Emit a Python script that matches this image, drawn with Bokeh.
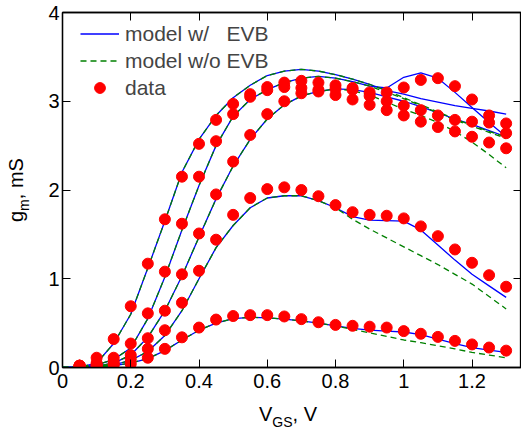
from bokeh.plotting import figure
from bokeh.models import (Range1d, LinearAxis, FixedTicker, Legend, LegendItem, Div)
from bokeh.layouts import row, column
from bokeh.embed import file_html
from bokeh.resources import INLINE

# ---------------- data ----------------
vgs_model = [0.0, 0.05, 0.10, 0.15, 0.20, 0.25, 0.30, 0.35, 0.40, 0.45, 0.50, 0.55, 0.60,
             0.65, 0.70, 0.75, 0.80, 0.85, 0.90, 0.95, 1.00, 1.05, 1.10, 1.15, 1.20, 1.25, 1.30]

# model with EVB (5 curves)
a_evb = [0, 0.005, 0.05, 0.27, 0.60, 1.12, 1.65, 2.20, 2.57, 2.84, 3.04, 3.18, 3.29,
         3.34, 3.36, 3.34, 3.30, 3.25, 3.19, 3.12, 3.08, 3.03, 2.99, 2.95, 2.92, 2.89, 2.855]
b_evb = [0, 0.003, 0.03, 0.09, 0.22, 0.55, 1.02, 1.55, 2.05, 2.50, 2.83, 3.02, 3.13,
         3.21, 3.26, 3.28, 3.26, 3.22, 3.17, 3.15, 3.27, 3.32, 3.26, 3.10, 2.93, 2.76, 2.60]
c_evb = [0, 0.002, 0.015, 0.05, 0.14, 0.34, 0.64, 1.03, 1.47, 1.90, 2.27, 2.57, 2.80,
         2.96, 3.06, 3.11, 3.14, 3.13, 3.10, 3.05, 3.00, 2.94, 2.87, 2.80, 2.74, 2.67, 2.60]
d_evb = [0, 0.002, 0.01, 0.03, 0.08, 0.18, 0.36, 0.64, 1.00, 1.35, 1.60, 1.80, 1.91,
         1.935, 1.935, 1.88, 1.80, 1.70, 1.66, 1.655, 1.65, 1.55, 1.38, 1.21, 1.05, 0.92, 0.79]
e_evb = [0, 0.002, 0.008, 0.02, 0.05, 0.10, 0.19, 0.31, 0.42, 0.50, 0.55, 0.565, 0.56,
         0.545, 0.525, 0.50, 0.47, 0.44, 0.42, 0.41, 0.40, 0.37, 0.32, 0.27, 0.225, 0.195, 0.17]

# model without EVB (5 curves)
a_noevb = [0, 0.005, 0.05, 0.27, 0.60, 1.12, 1.65, 2.20, 2.57, 2.84, 3.04, 3.18, 3.29,
           3.34, 3.36, 3.34, 3.30, 3.25, 3.19, 3.12, 3.04, 2.96, 2.88, 2.80, 2.73, 2.66, 2.60]
b_noevb = [0, 0.003, 0.03, 0.09, 0.22, 0.55, 1.02, 1.55, 2.05, 2.50, 2.83, 3.02, 3.13,
           3.21, 3.26, 3.28, 3.26, 3.22, 3.17, 3.10, 3.03, 2.95, 2.87, 2.79, 2.72, 2.65, 2.58]
c_noevb = [0, 0.002, 0.015, 0.05, 0.14, 0.34, 0.64, 1.03, 1.47, 1.90, 2.27, 2.57, 2.80,
           2.96, 3.06, 3.11, 3.14, 3.12, 3.07, 2.99, 2.91, 2.84, 2.76, 2.66, 2.54, 2.40, 2.25]
d_noevb = [0, 0.002, 0.01, 0.03, 0.08, 0.18, 0.36, 0.64, 1.00, 1.35, 1.60, 1.80, 1.91,
           1.935, 1.935, 1.88, 1.80, 1.67, 1.56, 1.46, 1.36, 1.26, 1.16, 1.05, 0.94, 0.80, 0.66]
e_noevb = [0, 0.002, 0.008, 0.02, 0.05, 0.10, 0.19, 0.31, 0.42, 0.50, 0.55, 0.565, 0.56,
           0.545, 0.525, 0.50, 0.47, 0.43, 0.39, 0.35, 0.31, 0.28, 0.245, 0.21, 0.17, 0.14, 0.11]

# measured data
vgs_data = [0.05, 0.10, 0.15, 0.20, 0.25, 0.30, 0.35, 0.40, 0.45, 0.50, 0.55, 0.60, 0.65,
            0.70, 0.75, 0.80, 0.85, 0.90, 0.95, 1.00, 1.05, 1.10, 1.15, 1.20, 1.25, 1.30]
a_data = [0.02, 0.11, 0.32, 0.69, 1.17, 1.67, 2.15, 2.52, 2.79, 2.97, 3.08, 3.16, 3.21,
          3.23, 3.21, 3.18, 3.15, 3.10, 3.10, 3.155, 3.24, 3.26, 3.17, 3.02, 2.84, 2.75]
b_data = [0.02, 0.05, 0.11, 0.27, 0.61, 1.08, 1.62, 2.15, 2.55, 2.855, 3.05, 3.125, 3.16,
          3.15, 3.13, 3.14, 3.13, 3.06, 3.00, 2.95, 2.90, 2.84, 2.79, 2.77, 2.76, 2.64]
c_data = [0.02, 0.03, 0.07, 0.14, 0.33, 0.64, 1.05, 1.51, 1.95, 2.32, 2.62, 2.855, 3.00,
          3.09, 3.11, 3.07, 3.02, 2.96, 2.90, 2.84, 2.77, 2.71, 2.66, 2.60, 2.535, 2.47]
d_data = [0.02, 0.02, 0.04, 0.09, 0.21, 0.42, 0.73, 1.09, 1.44, 1.72, 1.91, 2.01, 2.03,
          2.00, 1.93, 1.83, 1.75, 1.72, 1.71, 1.68, 1.59, 1.48, 1.33, 1.18, 1.04, 0.91]
e_data = [0.02, 0.02, 0.03, 0.04, 0.11, 0.21, 0.34, 0.45, 0.54, 0.58, 0.59, 0.59, 0.575,
          0.545, 0.51, 0.48, 0.47, 0.46, 0.45, 0.41, 0.38, 0.345, 0.30, 0.26, 0.225, 0.19]

x_ticks = [0, 0.2, 0.4, 0.6, 0.8, 1, 1.2]
x_tick_labels = ["0", "0.2", "0.4", "0.6", "0.8", "1", "1.2"]
y_ticks = [0, 1, 2, 3, 4]
y_tick_labels = ["0", "1", "2", "3", "4"]

legend_labels = ["model w/\u00a0\u00a0 EVB", "model w/o EVB", "data"]
x_label_html = "V<span style=\"font-size:14px;position:relative;top:6px;\">GS</span>, V"
y_label_html = "g<span style=\"font-size:14px;position:relative;top:6px;\">m</span>, mS"

# ---------------- figure ----------------
FONT = "Liberation Sans"
p = figure(width=481, height=400, output_backend="svg", toolbar_location=None,
           x_range=Range1d(0, 1.345), y_range=Range1d(0, 4),
           min_border_left=22, min_border_right=0, min_border_top=12, min_border_bottom=33,
           margin=0)
p.xgrid.visible = False
p.ygrid.visible = False
p.outline_line_color = "black"
p.outline_line_width = 1.3
p.background_fill_color = "white"
p.border_fill_color = "white"


def style_axis(ax, ticks, labels, show_labels=True):
    ax.ticker = FixedTicker(ticks=ticks)
    ax.major_label_overrides = dict(zip(ticks, labels))
    ax.major_tick_in = 8
    ax.major_tick_out = 0
    ax.minor_tick_in = 0
    ax.minor_tick_out = 0
    ax.axis_line_color = "black"
    ax.axis_line_width = 1.3
    ax.major_tick_line_color = "black"
    ax.major_tick_line_width = 1
    ax.major_label_text_font = FONT
    ax.major_label_text_font_size = "20px"
    if show_labels:
        ax.major_label_text_color = "black"
    else:
        ax.major_label_text_color = None
        ax.major_label_standoff = 0


style_axis(p.xaxis[0], x_ticks, x_tick_labels)
style_axis(p.yaxis[0], y_ticks, y_tick_labels)
p.xaxis[0].major_label_standoff = 6
p.yaxis[0].major_label_standoff = 3

top_ax = LinearAxis()
style_axis(top_ax, x_ticks, x_tick_labels, show_labels=False)
p.add_layout(top_ax, "above")
right_ax = LinearAxis()
style_axis(right_ax, y_ticks, y_tick_labels, show_labels=False)
p.add_layout(right_ax, "right")

BLUE = "#0000FF"
GREEN = "#008000"
RED = "#FF0000"

blue_rs = []
for ys in [a_evb, b_evb, c_evb, d_evb, e_evb]:
    blue_rs.append(p.line(vgs_model, ys, line_color=BLUE, line_width=1.3))
green_rs = []
for ys in [a_noevb, b_noevb, c_noevb, d_noevb, e_noevb]:
    green_rs.append(p.line(vgs_model, ys, line_color=GREEN, line_width=1.3,
                           line_dash="6 4"))
dot_rs = []
for ys in [a_data, b_data, c_data, d_data, e_data]:
    dot_rs.append(p.scatter(vgs_data, ys, marker="circle", size=11,
                            fill_color=RED, line_color=RED))

legend = Legend(items=[LegendItem(label=legend_labels[0], renderers=[blue_rs[0]]),
                       LegendItem(label=legend_labels[1], renderers=[green_rs[0]]),
                       LegendItem(label=legend_labels[2], renderers=[dot_rs[0]])],
                location=(18, 266), padding=0, margin=0, spacing=0,
                glyph_width=39, glyph_height=27, label_height=27, label_standoff=6,
                label_text_font=FONT, label_text_font_size="21px",
                background_fill_alpha=0, border_line_color=None)
p.add_layout(legend, "center")

# ---------------- axis titles (HTML, for real subscripts) ----------------
txt_style = ("font-family:'Liberation Sans',Arial,sans-serif;font-size:20px;"
             "line-height:20px;white-space:nowrap;color:black;")
ydiv = Div(width=40, height=400, margin=0,
           text=("<div style=\"position:relative;width:40px;height:400px;\">"
                 "<div style=\"position:absolute;left:5.6px;top:222px;transform:rotate(-90deg);"
                 "transform-origin:0 0;" + txt_style + "\">" + y_label_html + "</div></div>"))
xdiv = Div(width=521, height=32, margin=0,
           text=("<div style=\"position:relative;width:521px;height:32px;\">"
                 "<div style=\"position:absolute;left:259px;top:4px;" + txt_style + "\">"
                 + x_label_html + "</div></div>"))

layout = column(row(ydiv, p, spacing=0, margin=0), xdiv, spacing=0, margin=0)

open("out.html", "w").write(file_html(layout, INLINE))
